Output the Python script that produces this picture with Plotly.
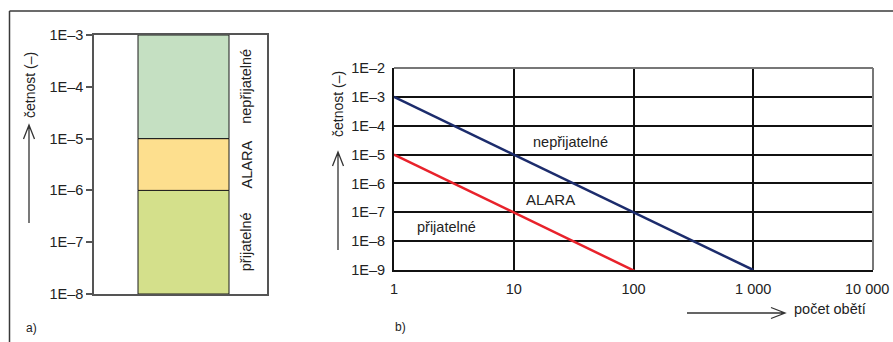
import math
import plotly.graph_objects as go

W, H = 893, 342
FONT = "Liberation Sans, Arial, Helvetica, sans-serif"
TXT = "#222222"

# ---------- data ----------
# panel a) bands of frequency
band_names = ["přijatelné", "ALARA", "nepřijatelné"]
band_low = [1e-8, 1e-6, 1e-5]
band_high = [1e-6, 1e-5, 1e-3]
band_colors = ["#d4e08b", "#fddf8e", "#c5e0c2"]

a_tickvals = [1e-8, 1e-7, 1e-6, 1e-5, 1e-4, 1e-3]
a_ticktext = ["1E–8", "1E–7", "1E–6", "1E–5", "1E–4", "1E–3"]

# panel b) F-N criterion lines
upper_x = [1, 1000]
upper_y = [1e-3, 1e-9]
lower_x = [1, 120]
lower_y = [1e-5, 6.7e-10]

b_xtickvals = [1, 10, 100, 1000, 10000]
b_xticktext = ["1", "10", "100", "1 000", "10 000"]
b_ytickvals = [1e-9, 1e-8, 1e-7, 1e-6, 1e-5, 1e-4, 1e-3, 1e-2]
b_yticktext = ["1E–9", "1E–8", "1E–7", "1E–6", "1E–5", "1E–4", "1E–3", "1E–2"]


def px(x):
    return x / W


def py(y):
    return 1 - y / H


fig = go.Figure()

# panel a bars
BX0, BX1 = (138 - 94) / 173, (229 - 94) / 173
for name, lo, hi, col in zip(band_names, band_low, band_high, band_colors):
    fig.add_trace(go.Scatter(
        x=[BX0, BX1, BX1, BX0, BX0], y=[lo, lo, hi, hi, lo],
        mode="lines", fill="toself", fillcolor=col,
        line=dict(color="#1a1a1a", width=1),
        xaxis="x", yaxis="y", showlegend=False, hoverinfo="skip", name=name))

# panel b lines
fig.add_trace(go.Scatter(x=upper_x, y=upper_y, mode="lines",
                         line=dict(color="#1c2c6c", width=2.5),
                         xaxis="x2", yaxis="y2", showlegend=False))
fig.add_trace(go.Scatter(x=lower_x, y=lower_y, mode="lines",
                         line=dict(color="#e8222b", width=2.5),
                         xaxis="x2", yaxis="y2", showlegend=False,
                         cliponaxis=False))

tickfont = dict(family=FONT, size=14.5, color=TXT)

# the last x tick label sits at the page edge; it is drawn as an annotation
x_ticktext_axis = b_xticktext[:-1] + [""]

fig.update_layout(
    width=W, height=H, autosize=False,
    margin=dict(l=0, r=0, t=0, b=0, pad=0, autoexpand=False),
    paper_bgcolor="white", plot_bgcolor="white",
    font=dict(family=FONT, size=14.5, color=TXT),
    xaxis=dict(domain=[px(94), px(267)], range=[0, 1], showgrid=False,
               zeroline=False, showticklabels=False, ticks="",
               showline=True, mirror=True, linecolor="#555555", linewidth=1.5),
    yaxis=dict(domain=[py(294), py(35)], type="log", range=[-8, -3],
               showgrid=False, zeroline=False,
               tickvals=a_tickvals, ticktext=a_ticktext, tickfont=tickfont,
               ticks="outside", ticklen=6, tickcolor="#555555", tickwidth=1.5,
               showline=True, mirror=True, linecolor="#555555", linewidth=1.5),
    xaxis2=dict(domain=[px(394), px(873)], type="log", range=[0, 4],
                anchor="y2", tickvals=b_xtickvals, ticktext=x_ticktext_axis,
                tickfont=tickfont, ticks="outside", ticklen=5,
                tickcolor="rgba(0,0,0,0)", ticklabeloverflow="allow",
                showgrid=True, gridcolor="#111111", gridwidth=2,
                zeroline=False, showline=True, linecolor="#111111", linewidth=2),
    yaxis2=dict(domain=[py(270), py(68)], type="log", range=[-9, -2],
                anchor="x2", tickvals=b_ytickvals, ticktext=b_yticktext,
                tickfont=tickfont, ticks="outside", ticklen=4,
                tickcolor="rgba(0,0,0,0)",
                showgrid=True, gridcolor="#111111", gridwidth=2,
                zeroline=False, showline=True, linecolor="#111111", linewidth=2),
)

shapes = []
# outer frame (top and left)
shapes.append(dict(type="line", xref="paper", yref="paper",
                   x0=px(9.5), y0=py(11), x1=1.0, y1=py(11),
                   line=dict(color="#3a3a3a", width=1.5)))
shapes.append(dict(type="line", xref="paper", yref="paper",
                   x0=px(9.5), y0=py(11), x1=px(9.5), y1=0,
                   line=dict(color="#3a3a3a", width=1.5)))
# panel b grey top/right border
shapes.append(dict(type="line", xref="x2 domain", yref="y2 domain",
                   x0=0, y0=1, x1=1, y1=1, layer="above",
                   line=dict(color="#777777", width=2)))
shapes.append(dict(type="line", xref="x2 domain", yref="y2 domain",
                   x0=1, y0=0, x1=1, y1=1, layer="above",
                   line=dict(color="#777777", width=2)))


def vert_arrow(x, y_bottom, y_top):
    return dict(type="path", xref="paper", yref="paper",
                path=(f"M {px(x)} {py(y_bottom)} L {px(x)} {py(y_top)} "
                      f"M {px(x - 5.5)} {py(y_top + 14)} L {px(x)} {py(y_top)} "
                      f"L {px(x + 5.5)} {py(y_top + 14)}"),
                line=dict(color="#333333", width=1.3))


def horiz_arrow(y, x_left, x_right):
    return dict(type="path", xref="paper", yref="paper",
                path=(f"M {px(x_left)} {py(y)} L {px(x_right)} {py(y)} "
                      f"M {px(x_right - 14)} {py(y - 5.5)} L {px(x_right)} {py(y)} "
                      f"L {px(x_right - 14)} {py(y + 5.5)}"),
                line=dict(color="#333333", width=1.3))


shapes.append(vert_arrow(29, 223, 125))
shapes.append(vert_arrow(338, 250, 152))
shapes.append(horiz_arrow(313, 687, 785))
fig.update_layout(shapes=shapes)


def label(text, x, y, xref="paper", yref="paper", size=14.5, angle=0,
          xanchor="center", yanchor="middle"):
    return dict(text=text, xref=xref, yref=yref, x=x, y=y, textangle=angle,
                showarrow=False, xanchor=xanchor, yanchor=yanchor,
                font=dict(family=FONT, size=size, color=TXT))


ann = []
# panel a rotated band labels
for name, lo, hi in zip(band_names, band_low, band_high):
    ymid = (math.log10(lo) + math.log10(hi)) / 2
    ann.append(label(name, px(246), ymid, yref="y", angle=-90))
# axis titles
ann.append(label("četnost (–)", px(30), py(85), size=14, angle=-90))
ann.append(label("četnost (–)", px(338), py(104), size=14, angle=-90))
ann.append(label("počet obětí", px(792), py(309), xanchor="left"))
# last x tick label, kept inside the page
ann.append(label(b_xticktext[-1], px(891), py(289), xanchor="right"))
# panel b region labels (log coordinates)
ann.append(label("nepřijatelné", 1.47, -4.56, xref="x2", yref="y2"))
ann.append(label("ALARA", 1.31, -6.57, xref="x2", yref="y2", size=15))
ann.append(label("přijatelné", 0.44, -7.51, xref="x2", yref="y2"))
# panel letters
ann.append(label("a)", px(31), py(328), size=12))
ann.append(label("b)", px(400), py(327), size=12))
fig.update_layout(annotations=ann)

fig.write_html(
    "out.html",
    config={"displayModeBar": False},
    post_script="document.body.style.margin='0px';document.body.style.padding='0px';",
)
